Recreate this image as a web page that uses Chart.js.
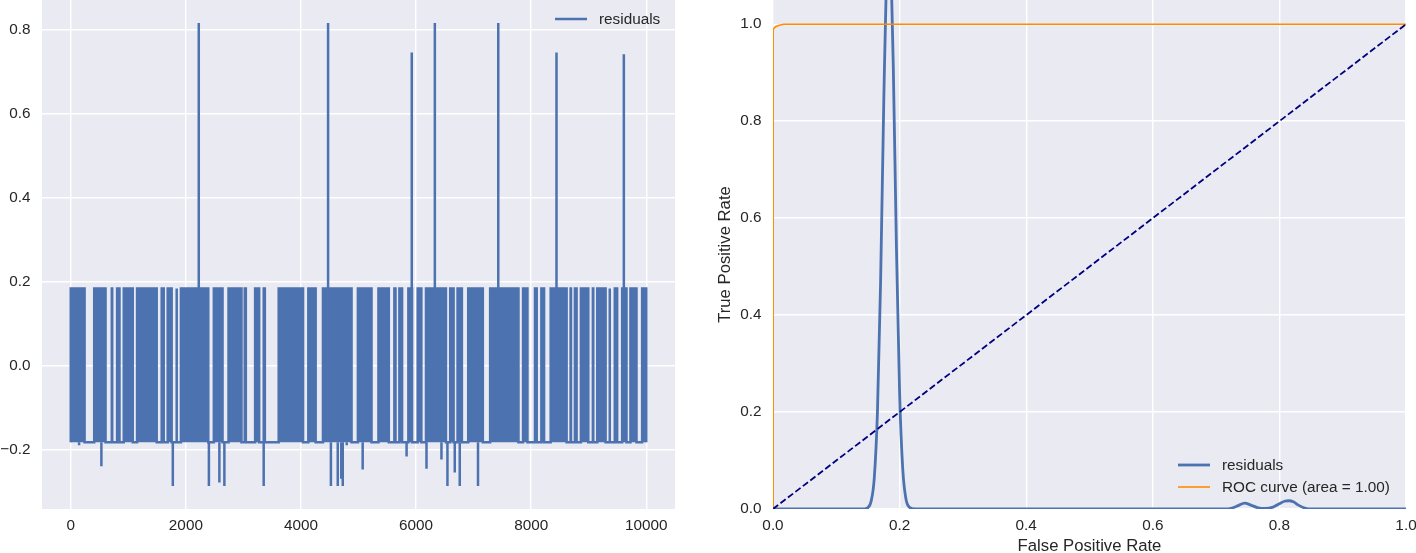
<!DOCTYPE html>
<html>
<head>
<meta charset="utf-8">
<script src="https://cdn.jsdelivr.net/npm/chart.js@4.4.1/dist/chart.umd.min.js"></script>
<style>
  html, body { margin: 0; padding: 0; background: #fff; width: 1416px; height: 553px; overflow: hidden; position: relative; }
  canvas { position: absolute; top: 0; }
  #residualChart { left: 0; }
  #rocChart { left: 700px; }
</style>
</head>
<body>
<canvas id="residualChart" width="700" height="553"></canvas>
<canvas id="rocChart" width="720" height="553"></canvas>
<script>
// residuals: the series flips between two levels, bursts are where it keeps flipping
const HIGH = 0.183
const LOW = -0.183
const burstStart = [0, 407, 713, 805, 921, 1152, 1580, 1684, 1838, 1914, 2486, 2741, 3023, 3203, 3353, 3613, 4128, 4382, 4989, 5346, 5623, 5710, 5866, 6028, 6172, 6593, 6721, 6906, 7287, 7859, 8066, 8177, 8339, 8685, 8760, 8864, 9072, 9148, 9361, 9453, 9581, 9725, 9928]
const burstEnd = [240, 604, 720, 846, 1077, 1493, 1615, 1753, 1842, 2389, 2637, 2966, 3042, 3273, 3372, 4036, 4255, 4879, 5226, 5526, 5642, 5757, 5930, 6092, 6519, 6652, 6796, 7160, 7779, 7935, 8096, 8224, 8616, 8692, 8789, 8992, 9079, 9293, 9368, 9494, 9656, 9830, 9999]
const spikeUpX = [2224, 4471, 5925, 6326, 7428, 8440, 9610]
const spikeUpY = [0.815, 0.815, 0.745, 0.815, 0.815, 0.745, 0.741]
const spikeDownX = [144, 532, 1773, 2400, 2582, 2669, 3352, 4520, 4639, 4700, 4726, 4795, 5072, 5835, 6181, 6441, 6545, 6672, 6759, 7076]
const spikeDownY = [-0.19, -0.24, -0.287, -0.287, -0.279, -0.287, -0.287, -0.287, -0.287, -0.27, -0.287, -0.19, -0.248, -0.217, -0.246, -0.224, -0.287, -0.255, -0.287, -0.287]
const residualXTicks = [0, 2000, 4000, 6000, 8000, 10000]
const residualYTicks = [-0.2, 0, 0.2, 0.4, 0.6, 0.8]

// right panel
const kdeX = [0, 0.14, 0.15, 0.155, 0.16, 0.165, 0.17, 0.175, 0.18, 0.183, 0.186, 0.19, 0.195, 0.2, 0.205, 0.21, 0.215, 0.225, 0.715, 0.725, 0.735, 0.745, 0.755, 0.765, 0.778, 0.79, 0.8, 0.808, 0.815, 0.822, 0.83, 0.84, 0.85, 1.0]
const kdeY = [0, 0, 0.003, 0.016, 0.064, 0.2, 0.47, 0.84, 1.14, 1.2, 1.14, 0.915, 0.54, 0.24, 0.082, 0.021, 0.004, 0, 0, 0.002, 0.007, 0.012, 0.008, 0.003, 0.001, 0.004, 0.011, 0.016, 0.017, 0.015, 0.008, 0.002, 0, 0]
const rocFpr = [0, 0, 0, 0.001, 0.004, 0.01, 0.017, 1.0]
const rocTpr = [0, 0.68, 0.984, 0.99, 0.995, 0.998, 1.0, 1.0]
const chanceX = [0, 1]
const chanceY = [0, 1]
const rateTicks = [0, 0.2, 0.4, 0.6, 0.8, 1.0]

const BLUE = "#4C72B0"
const ORANGE = "#FF8C00"
const NAVY = "#000080"
const TEXT = "#262626"
const FONT = "'Liberation Sans', Arial, sans-serif"

const residualPts = [{ x: 0, y: LOW }]
burstStart.forEach((s, i) => {
  residualPts.push({ x: s, y: LOW }, { x: s, y: HIGH }, { x: burstEnd[i], y: HIGH }, { x: burstEnd[i], y: LOW })
})
residualPts.push({ x: 9999, y: LOW })

const spikePts = []
spikeUpX.forEach((x, i) => spikePts.push({ x: x, y: HIGH }, { x: x, y: spikeUpY[i] }, { x: x, y: null }))
spikeDownX.forEach((x, i) => spikePts.push({ x: x, y: LOW }, { x: x, y: spikeDownY[i] }, { x: x, y: null }))

const toPts = (xs, ys) => xs.map((x, i) => ({ x: x, y: ys[i] }))
const minus = (s) => s.replace("-", "\u2212")

const darkgrid = {
  id: "darkgrid",
  beforeDraw(chart) {
    const { ctx, chartArea: a } = chart
    ctx.save()
    ctx.fillStyle = "#EAEAF2"
    ctx.fillRect(a.left, a.top, a.right - a.left, a.bottom - a.top)
    ctx.restore()
  },
}

// matplotlib style legend drawn inside the axes
const inlineLegend = {
  id: "inlineLegend",
  afterDatasetsDraw(chart, args, opts) {
    const { ctx, chartArea: a } = chart
    ctx.save()
    ctx.font = "15.3px " + FONT
    ctx.textBaseline = "middle"
    opts.items.forEach((it) => {
      const x = a.right + opts.dx
      const y = opts.fromBottom ? a.bottom + it.dy : a.top + it.dy
      ctx.strokeStyle = it.color
      ctx.lineWidth = it.width
      ctx.beginPath()
      ctx.moveTo(x, y)
      ctx.lineTo(x + 32, y)
      ctx.stroke()
      ctx.fillStyle = TEXT
      ctx.fillText(it.label, x + 44, y + 1)
    })
    ctx.restore()
  },
}

function axis(ticks, fmt, min, max, size, horizontal, extra) {
  return Object.assign({
    type: "linear",
    min: min,
    max: max,
    grid: { color: "#ffffff", lineWidth: 1.4, drawTicks: false },
    border: { display: false },
    ticks: {
      color: TEXT,
      font: { family: FONT, size: 15.3 },
      padding: horizontal ? 8 : 11.5,
      autoSkip: false,
      maxRotation: 0,
      callback: (v) => fmt(v),
    },
    afterBuildTicks: (s) => {
      s.ticks = ticks.map((v) => ({ value: v }))
    },
    afterFit: (s) => {
      if (horizontal) {
        s.height = size
        s.paddingLeft = 0
        s.paddingRight = 0
      } else {
        s.width = size
        s.paddingTop = 0
        s.paddingBottom = 0
      }
    },
  }, extra || {})
}

new Chart(document.getElementById("residualChart"), {
  type: "line",
  data: {
    datasets: [
      {
        label: "residuals",
        data: residualPts,
        borderColor: BLUE,
        backgroundColor: BLUE,
        borderWidth: 2.5,
        pointRadius: 0,
        tension: 0,
        fill: { value: LOW },
      },
      {
        label: "spikes",
        data: spikePts,
        borderColor: BLUE,
        borderWidth: 2.5,
        pointRadius: 0,
        spanGaps: false,
        fill: false,
      },
    ],
  },
  options: {
    responsive: false,
    animation: false,
    devicePixelRatio: 1,
    layout: { padding: { left: 0, right: 25, top: 0, bottom: 0 } },
    plugins: {
      legend: { display: false },
      tooltip: { enabled: false },
      inlineLegend: {
        dx: -120,
        fromBottom: false,
        items: [{ label: "residuals", color: BLUE, width: 2.5, dy: 19 }],
      },
    },
    scales: {
      x: axis(residualXTicks, (v) => String(v), -500, 10499, 44, true),
      y: axis(residualYTicks, (v) => minus(v.toFixed(1)), -0.342, 0.87, 42, false),
    },
  },
  plugins: [darkgrid, inlineLegend],
})

new Chart(document.getElementById("rocChart"), {
  type: "line",
  data: {
    datasets: [
      {
        label: "residuals",
        data: toPts(kdeX, kdeY),
        borderColor: BLUE,
        borderWidth: 2.8,
        pointRadius: 0,
        cubicInterpolationMode: "monotone",
        fill: false,
        order: 3,
      },
      {
        label: "ROC curve (area = 1.00)",
        data: toPts(rocFpr, rocTpr),
        borderColor: ORANGE,
        borderWidth: 1.6,
        pointRadius: 0,
        tension: 0,
        fill: false,
        clip: 0,
        order: 2,
      },
      {
        label: "chance",
        data: toPts(chanceX, chanceY),
        borderColor: NAVY,
        borderWidth: 1.8,
        borderDash: [6.5, 2.9],
        pointRadius: 0,
        fill: false,
        order: 1,
      },
    ],
  },
  options: {
    responsive: false,
    animation: false,
    devicePixelRatio: 1,
    layout: { padding: { left: 0, right: 14, top: 0, bottom: 0 } },
    plugins: {
      legend: { display: false },
      tooltip: { enabled: false },
      inlineLegend: {
        dx: -228,
        fromBottom: true,
        items: [
          { label: "residuals", color: BLUE, width: 2.8, dy: -44 },
          { label: "ROC curve (area = 1.00)", color: ORANGE, width: 1.6, dy: -22 },
        ],
      },
    },
    scales: {
      x: axis(rateTicks, (v) => v.toFixed(1), 0, 1, 44, true, {
        title: {
          display: true,
          text: "False Positive Rate",
          color: TEXT,
          font: { family: FONT, size: 16.7, lineHeight: 0.8 },
          padding: { top: 0, bottom: 0 },
        },
      }),
      y: axis(rateTicks, (v) => v.toFixed(1), 0, 1.05, 73, false, {
        title: {
          display: true,
          text: "True Positive Rate",
          color: TEXT,
          font: { family: FONT, size: 16.7, lineHeight: 1.2 },
          padding: { top: 15, bottom: 0 },
        },
      }),
    },
  },
  plugins: [darkgrid, inlineLegend],
})
</script>
</body>
</html>
